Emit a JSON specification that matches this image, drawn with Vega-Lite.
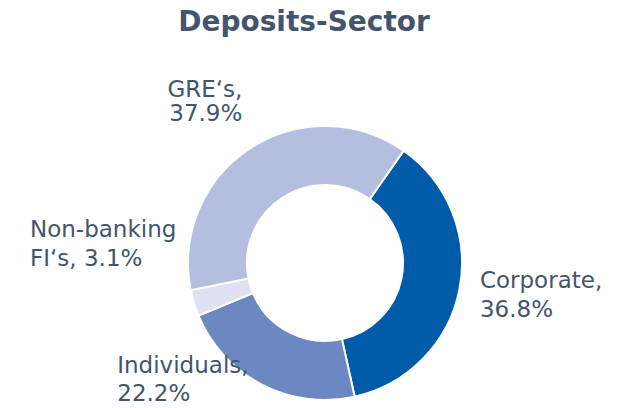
{
  "$schema": "https://vega.github.io/schema/vega-lite/v6.json",
  "autosize": {"type": "none"},
  "width": 624,
  "height": 290,
  "padding": {"top": 118, "left": 13, "right": 0, "bottom": 0},
  "background": "white",
  "title": {
    "text": "Deposits-Sector",
    "font": "DejaVu Sans",
    "fontSize": 28,
    "fontWeight": "bold",
    "color": "#44546A",
    "anchor": "middle",
    "dx": -21,
    "dy": -1,
    "offset": 0
  },
  "data": {
    "values": [
      {"category": "Corporate", "value": 36.8, "ord": 1, "label": "Corporate,\n36.8%"},
      {"category": "Individuals", "value": 22.2, "ord": 2, "label": "Individuals,\n22.2%"},
      {"category": "Non-banking FI's", "value": 3.1, "ord": 3, "label": "Non-banking\nFI‘s, 3.1%"},
      {"category": "GRE's", "value": 37.9, "ord": 4, "label": "GRE‘s,\n37.9%"}
    ]
  },
  "encoding": {
    "theta": {"field": "value", "type": "quantitative", "stack": true, "scale": {"range": [0.6109, 6.8941]}},
    "order": {"field": "ord", "type": "quantitative"}
  },
  "layer": [
    {
      "mark": {"type": "arc", "outerRadius": 137, "innerRadius": 78, "stroke": "white", "strokeWidth": 2},
      "encoding": {
        "color": {
          "field": "category", "type": "nominal", "legend": null,
          "scale": {"domain": ["Corporate", "Individuals", "Non-banking FI's", "GRE's"], "range": ["#005CA9", "#6C87C1", "#DDE1F1", "#B4BFDF"]}
        }
      }
    },
    {
      "mark": {"type": "text", "font": "DejaVu Sans", "fontSize": 23, "color": "#44546A", "align": "left", "baseline": "alphabetic", "lineBreak": "\n", "lineHeight": 29, "dx": -2, "dy": -6},
      "encoding": {
        "radius": {"value": 160},
        "text": {"condition": {"test": "datum.category === 'Corporate'", "field": "label"}, "value": ""}
      }
    },
    {
      "mark": {"type": "text", "font": "DejaVu Sans", "fontSize": 23, "color": "#44546A", "align": "left", "baseline": "alphabetic", "lineBreak": "\n", "lineHeight": 28, "dx": -134, "dy": -32},
      "encoding": {
        "radius": {"value": 160},
        "text": {"condition": {"test": "datum.category === 'Individuals'", "field": "label"}, "value": ""}
      }
    },
    {
      "mark": {"type": "text", "font": "DejaVu Sans", "fontSize": 23, "color": "#44546A", "align": "left", "baseline": "alphabetic", "lineBreak": "\n", "lineHeight": 29, "dx": -142, "dy": -73},
      "encoding": {
        "radius": {"value": 160},
        "text": {"condition": {"test": "datum.category === \"Non-banking FI's\"", "field": "label"}, "value": ""}
      }
    },
    {
      "mark": {"type": "text", "font": "DejaVu Sans", "fontSize": 23, "color": "#44546A", "align": "right", "baseline": "alphabetic", "lineBreak": "\n", "lineHeight": 24, "dx": 5, "dy": -32},
      "encoding": {
        "radius": {"value": 160},
        "text": {"condition": {"test": "datum.category === \"GRE's\"", "field": "label"}, "value": ""}
      }
    }
  ]
}
